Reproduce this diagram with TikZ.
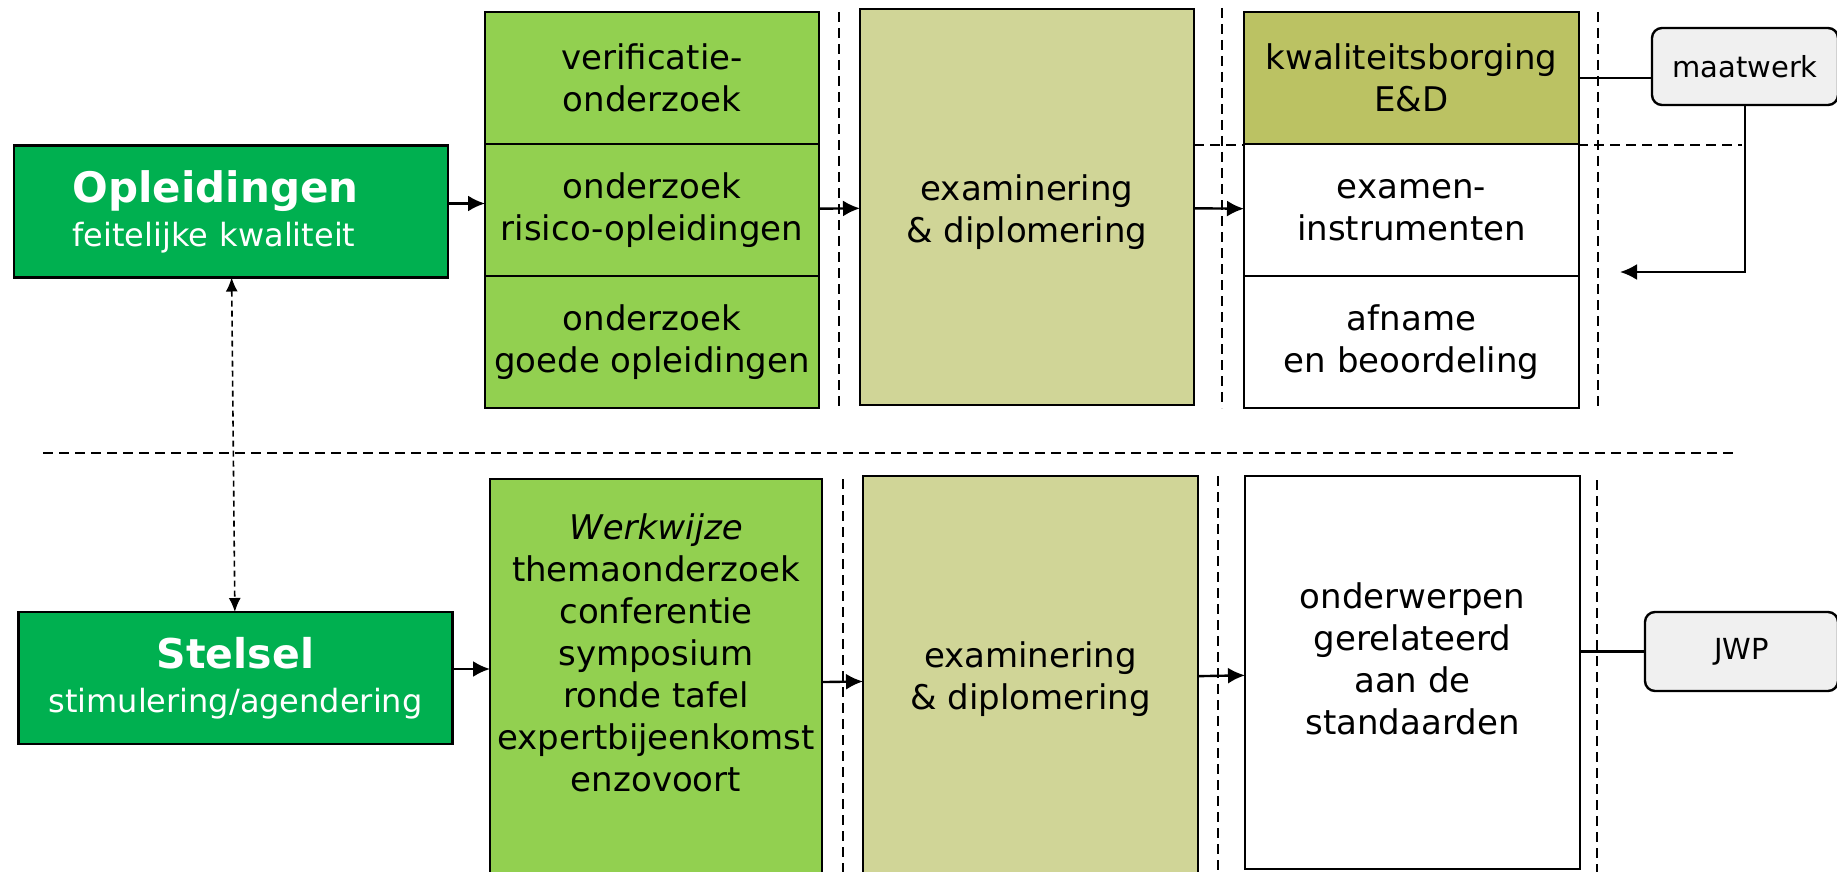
\documentclass[tikz,border=0pt]{standalone}
\usepackage{fontspec}
\setmainfont{DejaVu Sans}
\usetikzlibrary{positioning}
\usetikzlibrary{arrows.meta}
\definecolor{donkergroen}{HTML}{00B050}
\definecolor{lichtgroen}{HTML}{92D050}
\definecolor{zand}{HTML}{D0D597}
\definecolor{olijf}{HTML}{BBC263}
\definecolor{grijs}{HTML}{F0F0F0}

\begin{document}
\begin{tikzpicture}[x=0.5pt,y=-0.5pt,
  every node/.style={align=center,inner sep=0pt,outer sep=0pt,font=\fontsize{17}{21}\selectfont},
  cel/.style={draw,line width=1.2pt,minimum width=167pt,minimum height=66pt},
  hoofd/.style={draw,line width=1.2pt,fill=donkergroen,text=white,minimum width=217pt,minimum height=66pt},
  tag/.style={draw,line width=1.2pt,fill=grijs,rounded corners=5pt,font=\fontsize{14.5}{17}\selectfont},
  scheiding/.style={line width=0.8pt,dash pattern=on 5pt off 3pt},
  pijl/.style={-{Latex[length=8.5pt,width=8pt]},line width=1.2pt}]
\useasboundingbox (0,0) rectangle (1837,872);
% lines behind the boxes
\draw[scheiding] (1194,145) -- (1742,145);
\draw[scheiding] (839,12) -- (839,408);
\draw[scheiding] (1222,8) -- (1222,408);
\draw[scheiding] (1598,12) -- (1598,408);
\draw[scheiding] (843,479) -- (843,872);
\draw[scheiding] (1218,476) -- (1218,872);
\draw[scheiding] (1597,480) -- (1597,872);
\draw[scheiding] (43,453) -- (1737,453);

% opleidingen
\node[hoofd,text width=158.4pt,align=left] at (231,211.5) (opl) {{\fontsize{21}{25}\selectfont\bfseries Opleidingen}\\[1pt]
  {\fontsize{16}{20}\selectfont feitelijke kwaliteit}};
\node[cel,fill=lichtgroen] at (652,78) (verif) {verificatie-\\onderzoek};
\node[cel,fill=lichtgroen,below=0pt of verif] (risico) {onderzoek\\risico-opleidingen};
\node[cel,fill=lichtgroen,below=0pt of risico] (goed) {onderzoek\\goede opleidingen};
\node[cel,fill=zand,minimum height=198pt] at (1027,207) (exam) {};
\node at ([yshift=-2.5pt]exam.center) (examtekst) {examinering\\\& diplomering};
\node[cel,fill=olijf,minimum width=167.5pt] at (1411.5,78) (borg) {kwaliteitsborging\\E\&D};
\node[cel,fill=white,minimum width=167.5pt,below=0pt of borg] (instr) {examen-\\instrumenten};
\node[cel,fill=white,minimum width=167.5pt,below=0pt of instr] (afname) {afname\\en beoordeling};
\node[tag,minimum width=93pt,minimum height=38.5pt] at (1745,66.5) (maat) {maatwerk};
\coordinate (maatin) at (1620,272);

% stelsel
\node[hoofd,minimum height=66pt] at (235.5,678) (stel) {{\fontsize{20.5}{25}\selectfont\bfseries Stelsel}\\[1pt]
  {\fontsize{16}{20}\selectfont stimulering/agendering}};
\node[cel,fill=lichtgroen,minimum width=166pt,minimum height=205.5pt] at (656,684.5) (werk) {};
\node at ([yshift=15.75pt]werk.center) (werktekst) {\textit{Werkwijze}\\themaonderzoek\\conferentie\\symposium\\ronde tafel\\expertbijeenkomst\\enzovoort};
\node[cel,fill=zand,minimum width=167.5pt,minimum height=203pt] at (1030.5,679) (exam2) {examinering\\\& diplomering};
\node[cel,fill=white,minimum width=167.5pt,minimum height=196.5pt] at (1412.5,672.5) (onderw) {};
\node at ([yshift=7pt]onderw.center) (onderwtekst) {onderwerpen\\gerelateerd\\aan de\\standaarden};
\node[tag,minimum width=96.5pt,minimum height=39.5pt] at (1741.5,651.5) (jwp) {JWP};

% verbindingen
\draw[pijl] ([yshift=4pt]opl.east) -- ([yshift=4pt]opl.east -| risico.west);
\draw[pijl] (risico) -- (exam);
\draw[pijl] (exam) -- (instr);
\draw[pijl] ([yshift=4.5pt]stel.east) -- ([yshift=4.5pt]stel.east -| werk.west);
\draw[pijl] (werk) -- (exam2);
\draw[pijl] (exam2) -- (onderw);
\draw[line width=0.8pt,dash pattern=on 3pt off 2pt,{Latex[length=7pt,width=6pt]}-{Latex[length=7pt,width=6pt]}] (opl) -- (stel);
\draw[line width=1.2pt] (borg.east -| maat.west) -- (borg.east);
\draw[pijl] (maat.south) |- (maatin);
\draw[line width=1.2pt] (jwp.west -| onderw.east) -- (jwp.west);
\end{tikzpicture}
\end{document}
